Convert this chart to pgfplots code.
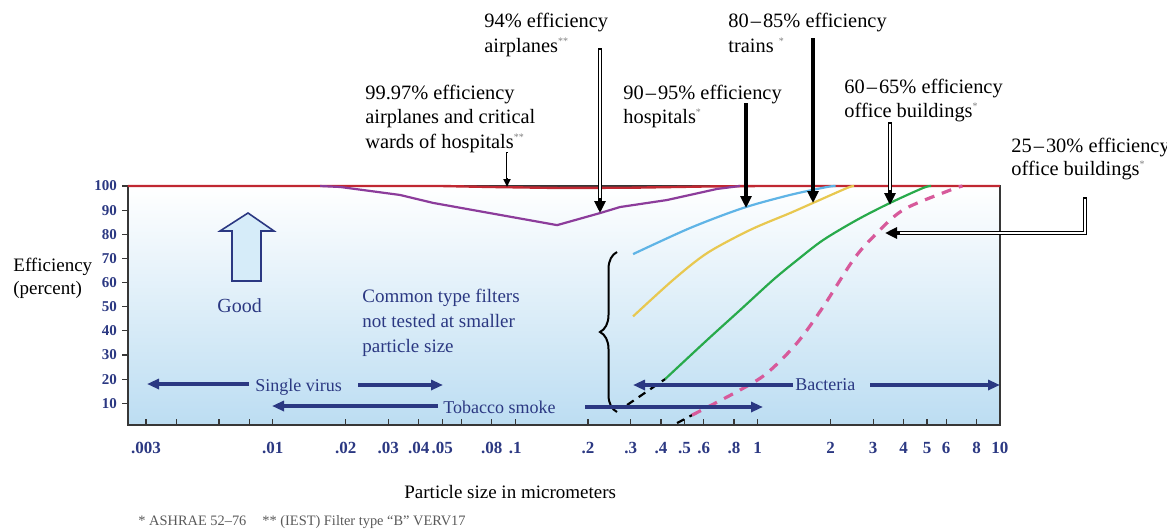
\documentclass[border=0pt]{standalone}
\usepackage{pgfplots}
\pgfplotsset{compat=1.18}
\usepackage{fontspec}
\setmainfont{Liberation Serif}
\usetikzlibrary{arrows.meta,decorations.pathreplacing}

\definecolor{navy}{RGB}{43,56,130}
\definecolor{bgblue}{RGB}{188,221,242}
\definecolor{cred}{RGB}{192,40,50}
\definecolor{cpurple}{RGB}{140,60,155}
\definecolor{cblue}{RGB}{95,180,230}
\definecolor{cyellow}{RGB}{232,200,80}
\definecolor{cgreen}{RGB}{40,170,75}
\definecolor{cpink}{RGB}{215,90,155}
\definecolor{frame}{RGB}{55,55,55}

\newcommand{\ann}{\fontsize{10.2}{12}\selectfont}
\newcommand{\st}[1]{\textsuperscript{\color{black!50}\fontsize{5}{5}\selectfont #1}}
\newcommand{\rng}[2]{#1\kern1pt--\kern1pt#2}

\begin{document}
\begin{tikzpicture}
\useasboundingbox (0,0) rectangle (583.5pt,-265.5pt);
\begin{axis}[
  at={(64pt,-212.5pt)}, anchor=south west,
  scale only axis, width=436pt, height=119.5pt,
  xmode=log, xmin=0.00253, xmax=10, ymin=1, ymax=100,
  axis background/.style={top color=white, bottom color=bgblue},
  axis line style={frame, line width=1pt},
  tick pos=left,
  xtick align=inside, ytick align=outside,
  major tick length=3pt, minor tick length=3pt,
  tick style={frame, line width=0.6pt},
  xtick={0.003,0.01,0.02,0.03,0.04,0.05,0.08,0.1,0.2,0.3,0.4,0.5,0.6,0.8,1,2,3,4,5,6,8,10},
  xticklabels={.003,.01,.02,.03,.04,.05,.08,.1,.2,.3,.4,.5,.6,.8,1,2,3,4,5,6,8,10},
  minor xtick={0.004,0.006,0.008,0.06},
  ytick={10,20,...,100},
  /pgf/number format/assume math mode=true,
  xticklabel style={font=\fontsize{8.5}{10}\selectfont\bfseries, text=navy, yshift=-5pt},
  yticklabel style={font=\fontsize{7.5}{9}\selectfont\bfseries, text=navy, xshift=1pt},
  clip=false,
]
% 99.97% line along the top
\addplot[cred, line width=1.2pt] coordinates {(0.00253,100)(0.05,100)(0.08,99.6)(0.15,99.2)(0.3,99.3)(0.6,99.8)(1,100)(10,100)};
% 94%
\addplot[cpurple, line width=1.1pt] coordinates {(0.0157,100)(0.019,99.6)(0.0335,96.3)(0.0459,93.0)(0.149,83.8)(0.2241,88.8)(0.2709,91.3)(0.4233,94.2)(0.6808,98.8)(0.847,100)};
% 90-95%
\addplot[cblue, line width=1.1pt, smooth, tension=0.5] coordinates {(0.3066,71.8)(0.5267,82.6)(0.8714,90.9)(1.3619,96.3)(1.9355,99.6)(2.1,100)};
% 80-85%
\addplot[cyellow, line width=1.1pt, smooth, tension=0.5] coordinates {(0.3066,46.0)(0.4484,61.1)(0.6191,72.2)(0.9313,81.8)(1.3619,88.8)(1.6943,93.0)(2.341,99.2)(2.5,100)};
% 60-65%
\addplot[cgreen, line width=1.1pt, smooth, tension=0.5] coordinates {(0.4154,20.0)(0.6191,36.2)(0.847,48.6)(1.1587,61.1)(1.4557,69.3)(1.8633,77.6)(2.5735,86.0)(3.5207,93.0)(4.8184,99.2)(5.2,100)};
\addplot[black, line width=1.1pt, dash pattern=on 4pt off 3pt] coordinates {(0.2897,9.3)(0.4154,20.0)};
% 25-30%
\addplot[black, line width=1.1pt, dash pattern=on 4pt off 3pt] coordinates {(0.4655,1.8)(0.5369,5.1)};
\addplot[cpink, line width=1.6pt, dash pattern=on 5pt off 4pt, smooth, tension=0.5] coordinates {(0.5369,5.1)(0.847,15.5)(1.0945,22.5)(1.4557,35.0)(1.8633,49.9)(2.4776,69.3)(2.9955,78.9)(3.9845,90.1)(6.227,98.3)(7.0,100)};
\end{axis}

\begin{scope}[x=0.5pt, y=-0.5pt,
  every node/.style={inner sep=0pt, anchor=base west},
  solidarr/.style={black, line width=2.4pt, -{Triangle[length=6pt,width=5.5pt]}},
  core/.style={white, line width=0.7pt}]
% annotation arrows
\draw[black, line width=1.4pt, -{Triangle[length=4pt,width=3.5pt]}] (507,152) -- (507,187);
\draw[core, line width=0.4pt] (507,153) -- (507,178);
\draw[solidarr] (600,48) -- (600,213);
\draw[core] (600,50) -- (600,198);
\draw[solidarr] (746,103) -- (746,208);
\draw[solidarr] (813,38) -- (813,203);
\draw[solidarr] (890,122) -- (890,205);
\draw[core] (890,124) -- (890,190);
\draw[solidarr] (1085,197) -- (1085,233) -- (885,233);
\draw[core] (1085,199) -- (1085,233) -- (900,233);

% annotation texts
\node[font=\ann] at (484,27) {94\% efficiency};
\node[font=\ann] at (484,52) {airplanes\st{**}};
\node[font=\ann] at (365,99) {99.97\% efficiency};
\node[font=\ann] at (365,123) {airplanes and critical};
\node[font=\ann] at (365,148) {wards of hospitals\st{**}};
\node[font=\ann] at (623,99) {\rng{90}{95}\% efficiency};
\node[font=\ann] at (623,123) {hospitals\st{*}};
\node[font=\ann] at (728,27) {\rng{80}{85}\% efficiency};
\node[font=\ann] at (728,52) {trains \st{*}};
\node[font=\ann] at (844,93) {\rng{60}{65}\% efficiency};
\node[font=\ann] at (844,117) {office buildings\st{*}};
\node[font=\ann] at (1011,152) {\rng{25}{30}\% efficiency};
\node[font=\ann] at (1011,175) {office buildings\st{*}};

% axis titles and note
\node[font=\fontsize{9.5}{11}\selectfont] at (13,271) {Efficiency};
\node[font=\fontsize{9.5}{11}\selectfont] at (13,294) {(percent)};
\node[font=\fontsize{9.5}{11}\selectfont] at (404,498) {Particle size in micrometers};
\node[font=\fontsize{7.2}{9}\selectfont, text=black!65] at (138,525) {* ASHRAE 52--76};
\node[font=\fontsize{7.2}{9}\selectfont, text=black!65] at (262,525) {** (IEST) Filter type “B” VERV17};

% inside texts
\draw[navy, line width=0.8pt, fill={rgb,255:red,214;green,236;blue,249}]
  (232,281) -- (261,281) -- (261,231) -- (274,231) -- (248,213) -- (220,231) -- (232,231) -- cycle;
\node[font=\fontsize{10}{12}\selectfont, text=navy] at (217,312) {Good};
\node[font=\fontsize{9.5}{12}\selectfont, text=navy] at (362,302) {Common type filters};
\node[font=\fontsize{9.5}{12}\selectfont, text=navy] at (362,327) {not tested at smaller};
\node[font=\fontsize{9.5}{12}\selectfont, text=navy] at (362,352) {particle size};
\draw[decorate, decoration={brace, amplitude=8.5pt}, line width=1pt] (617,412) -- (617,252);

% particle ranges
\begin{scope}[navy, line width=1.6pt, -{Triangle[length=6pt,width=5pt]}]
\draw (249,384) -- (147,384);
\draw (358,385) -- (443,385);
\draw (438,406) -- (272,406);
\draw (585,407) -- (763,407);
\draw (793,385) -- (633,385);
\draw (870,385) -- (1000,385);
\end{scope}
\node[font=\fontsize{9}{11}\selectfont, text=navy] at (255,391) {Single virus};
\node[font=\fontsize{9}{11}\selectfont, text=navy] at (443,413) {Tobacco smoke};
\node[font=\fontsize{9}{11}\selectfont, text=navy] at (795,390) {Bacteria};
\end{scope}
\end{tikzpicture}
\end{document}
